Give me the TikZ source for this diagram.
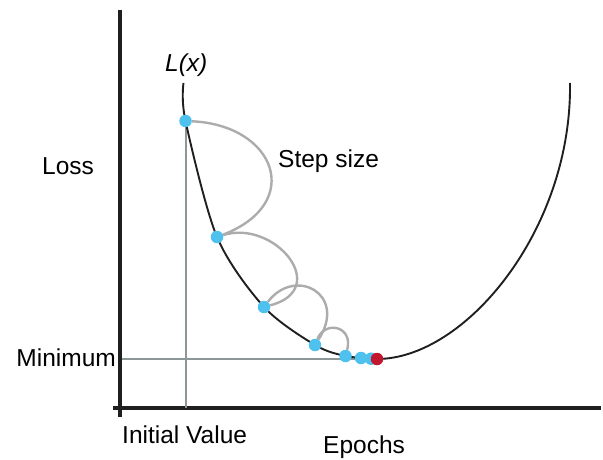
\documentclass[tikz,border=0pt]{standalone}
\usepackage{fontspec}
\setmainfont{Liberation Sans}
\usetikzlibrary{positioning}
\definecolor{stepblue}{RGB}{79,193,238}
\definecolor{minred}{RGB}{193,24,47}
\definecolor{guidegray}{RGB}{140,152,152}
\definecolor{arcgray}{RGB}{172,172,172}

\begin{document}
\begin{tikzpicture}[x=1pt,y=1pt,
  axisline/.style={line width=4pt, draw=black!88},
  curveline/.style={line width=1.9pt, draw=black!88},
  guideline/.style={line width=2pt, draw=guidegray},
  steparc/.style={line width=2.4pt, draw=arcgray},
  stepdot/.style={circle, fill=stepblue, minimum size=12.5pt, inner sep=0pt},
  mindot/.style={stepdot, fill=minred},
  labeltext/.style={inner sep=0pt, font=\fontsize{24.5}{29}\selectfont}
  ]
  \useasboundingbox (0,0) rectangle (603,459);

  % axes
  \coordinate (ytop) at (120,449);
  \coordinate (ybot) at (120,42);
  \coordinate (xleft) at (113,51);
  \coordinate (xright) at (601,51);
  \draw[axisline] (ytop) -- (ybot);
  \draw[axisline] (xleft) -- (xright);

  % points of the descent
  \coordinate (p0) at (185.5,338);
  \coordinate (p1) at (217,222);
  \coordinate (p2) at (264,152);
  \coordinate (p3) at (315,114);
  \coordinate (p4) at (345.5,103);
  \coordinate (p5) at (361,101);
  \coordinate (p6) at (371,100.3);
  \coordinate (pmin) at (377,100);
  \coordinate (ltop) at (183.5,376);
  \coordinate (rtop) at (570,376);

  % guide lines
  \draw[guideline] (p0) -- (p0 |- xleft);
  \draw[guideline] (122,100) -- (pmin);

  % loss curve
  \draw[curveline] plot[smooth, tension=0.5] coordinates
    {(ltop) (p0) (p1) (p2) (p3) (p4) (pmin)};
  \draw[curveline] (pmin) .. controls (465,100) and (572,229) .. (rtop);

  % dots
  \node[stepdot] (d0) at (p0) {};
  \node[stepdot] (d1) at (p1) {};
  \node[stepdot] (d2) at (p2) {};
  \node[stepdot] (d3) at (p3) {};
  \node[stepdot] (d4) at (p4) {};
  \node[stepdot] (d5) at (p5) {};
  \node[stepdot] (d6) at (p6) {};
  \node[mindot] (dmin) at (pmin) {};

  % step arcs
  \draw[steparc] (d0) .. controls +(90,-4) and +(88,34) .. (d1);
  \draw[steparc] (d1) .. controls +(58,18) and +(68,18) .. (d2);
  \draw[steparc] (d2) .. controls +(31,41) and +(33,51) .. (d3);
  \draw[steparc] (d3) .. controls +(10,25) and +(8,30) .. (d4);

  % labels
  \node[labeltext, anchor=base west] (lossfn) at (165,387) {\itshape L(x)};
  \node[labeltext, anchor=base west] (stepsize) at (278,291) {Step size};
  \node[labeltext, anchor=base west] (loss) at (42,284) {Loss};
  \node[labeltext, anchor=base east] (minimum) at (116,92.5) {Minimum};
  \node[labeltext, anchor=base west] (initval) at (122,16) {Initial Value};
  \node[labeltext, anchor=base west] (epochs) at (323,6) {Epochs};
\end{tikzpicture}
\end{document}
